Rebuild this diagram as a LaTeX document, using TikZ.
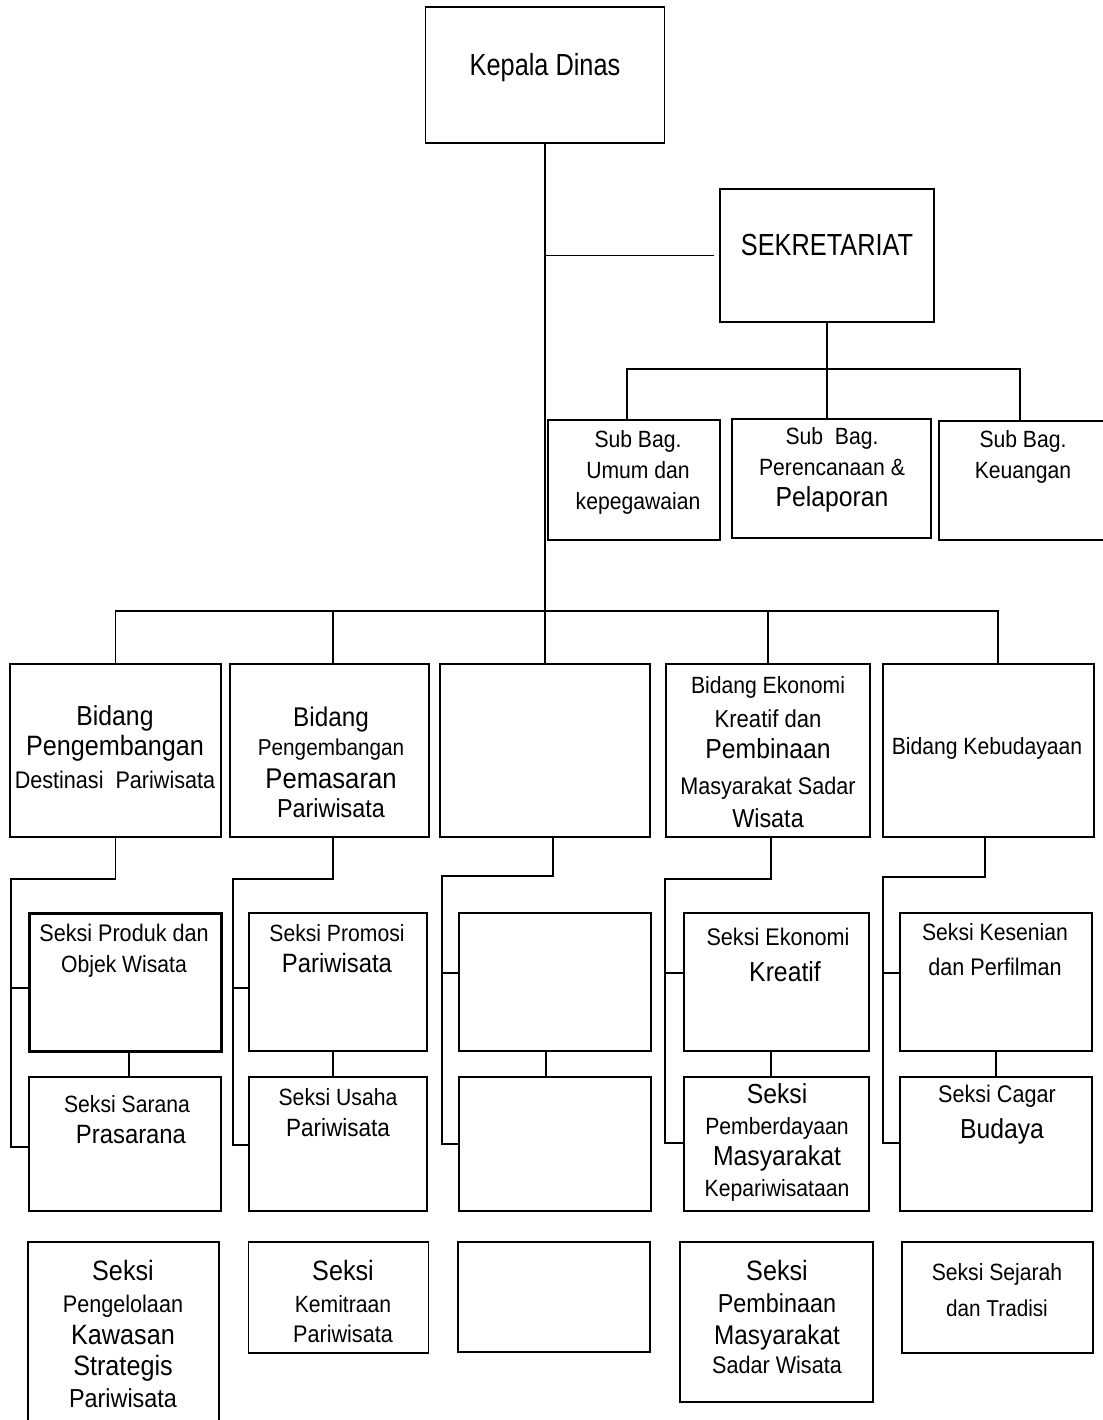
\documentclass[tikz,border=0pt]{standalone}
\usepackage{fontspec}
\setmainfont[FakeStretch=0.9]{Liberation Sans}
\newfontfamily\narrowf[FakeStretch=0.83]{Liberation Sans}
\newcommand\fz[1]{\fontsize{#1}{31}\selectfont}
\begin{document}
\begin{tikzpicture}[x=1pt,y=-1pt,line width=1.8pt,
  box/.style={draw,inner sep=0pt},
  thickbox/.style={draw,inner sep=0pt,line width=3pt},
  txt/.style={align=center,inner sep=0pt,font=\fz{23.5}}]
\fill[white] (0,0) rectangle (1102,1420);
\useasboundingbox (0,0) rectangle (1102,1420);

% top boxes
\node[box,minimum width=239pt,minimum height=136pt] (kd) at (545,75) {};
\node[txt,font=\narrowf\fz{30.5}] (tkd) at (545,68) {Kepala Dinas};
\node[box,minimum width=214pt,minimum height=133pt] (sek) at (827,255.5) {};
\node[txt,font=\narrowf\fz{30.5}] (tsek) at (827,245) {SEKRETARIAT};

% sub bagian
\node[box,minimum width=172pt,minimum height=120pt] (sb1) at (634,480) {};
\node[txt] (tsb1) at (638,472.5) {Sub Bag.\\Umum dan\\kepegawaian};
\node[box,minimum width=199pt,minimum height=119pt] (sb2) at (831.5,478.5) {};
\node[txt] (tsb2) at (832,470) {Sub\ \ Bag.\\Perencanaan \&\\{\fz{27.5}Pelaporan}};
\node[box,minimum width=176pt,minimum height=119pt] (sb3) at (1027,480.5) {};
\node[txt] (tsb3) at (1023,456.5) {Sub Bag.\\Keuangan};

% bidang
\node[box,minimum width=211pt,minimum height=173pt] (b1) at (115.5,750.5) {};
\node[txt] (tb1) at (115,747) {{\fz{27.5}Bidang}\\[-1pt]{\fz{28}Pengembangan}\\[2pt]{\fz{24}Destinasi\ \ Pariwisata}};
\node[box,minimum width=199pt,minimum height=173pt] (b2) at (329.5,750.5) {};
\node[txt] (tb2) at (331,762) {{\fz{27}Bidang}\\[-2pt]{\fz{23}Pengembangan}\\[2pt]{\fz{28.5}Pemasaran}\\[-2pt]{\fz{26}Pariwisata}};
\node[box,minimum width=210pt,minimum height=173pt] (b3) at (545,750.5) {};
\node[box,minimum width=204pt,minimum height=173pt] (b4) at (768,750.5) {};
\node[txt] (tb4) at (768,752.5) {Bidang Ekonomi\\[3pt]{\fz{24.5}Kreatif dan}\\[0pt]{\fz{27.5}Pembinaan}\\[5pt]{\fz{24}Masyarakat Sadar}\\[2pt]{\fz{26}Wisata}};
\node[box,minimum width=211pt,minimum height=173pt] (b5) at (988.5,750.5) {};
\node[txt] (tb5) at (987,748) {Bidang Kebudayaan};

% seksi row 1
\node[thickbox,minimum width=192pt,minimum height=138pt] (c1a) at (125,982) {};
\node[txt] (tc1a) at (124,951) {{\fz{24}Seksi Produk dan}\\Objek Wisata};
\node[box,minimum width=178pt,minimum height=138pt] (c2a) at (338,982) {};
\node[txt] (tc2a) at (337,948.5) {Seksi Promosi\\{\fz{26.5}Pariwisata}};
\node[box,minimum width=192pt,minimum height=138pt] (c3a) at (555,982) {};
\node[box,minimum width=185pt,minimum height=138pt] (c4a) at (776.5,982) {};
\node[txt] (tc4a) at (778,955) {{\fz{24}Seksi Ekonomi}\\[5pt]{\fz{27.5}\hspace*{14pt}Kreatif}};
\node[box,minimum width=192pt,minimum height=138pt] (c5a) at (996,982) {};
\node[txt] (tc5a) at (995,949.5) {Seksi Kesenian\\[4pt]{\fz{24}dan Perfilman}};

% seksi row 2
\node[box,minimum width=192pt,minimum height=134pt] (c1b) at (125,1144) {};
\node[txt] (tc1b) at (127,1120) {Seksi Sarana\\{\fz{26.5}\hspace*{8pt}Prasarana}};
\node[box,minimum width=178pt,minimum height=134pt] (c2b) at (338,1144) {};
\node[txt] (tc2b) at (338,1112.5) {Seksi Usaha\\{\fz{25}Pariwisata}};
\node[box,minimum width=192pt,minimum height=134pt] (c3b) at (555,1144) {};
\node[box,minimum width=185pt,minimum height=134pt] (c4b) at (776.5,1144) {};
\node[txt] (tc4b) at (777,1142.5) {{\fz{27.5}Seksi}\\Pemberdayaan\\{\fz{27.5}Masyarakat}\\Kepariwisataan};
\node[box,minimum width=192pt,minimum height=134pt] (c5b) at (996,1144) {};
\node[txt] (tc5b) at (997,1115) {{\fz{24}Seksi Cagar}\\[5pt]{\fz{27.5}\hspace*{10pt}Budaya}};

% bottom row
\node[box,minimum width=191pt,minimum height=210pt] (d1) at (123.5,1347) {};
\node[txt] (td1) at (123,1333.5) {{\fz{28}Seksi}\\[1pt]{\fz{24}Pengelolaan}\\[1pt]{\fz{28}Kawasan}\\[0pt]{\fz{28}Strategis}\\[1pt]{\fz{26}Pariwisata}};
\node[box,minimum width=180pt,minimum height=111pt] (d2) at (338.5,1297.5) {};
\node[txt] (td2) at (343,1301.5) {{\fz{28}Seksi}\\[1pt]Kemitraan\\[-1pt]{\fz{24}Pariwisata}};
\node[box,minimum width=192pt,minimum height=110pt] (d3) at (554,1297) {};
\node[box,minimum width=193pt,minimum height=160pt] (d4) at (776.5,1322) {};
\node[txt] (td4) at (777,1316.5) {{\fz{28}Seksi}\\[1pt]{\fz{26}Pembinaan}\\[1pt]{\fz{27}Masyarakat}\\[-2pt]{\fz{24}Sadar Wisata}};
\node[box,minimum width=191pt,minimum height=111pt] (d5) at (997.5,1297.5) {};
\node[txt] (td5) at (997,1290) {Seksi Sejarah\\[5pt]{\fz{23}dan Tradisi}};

% trunk and secretariat
\coordinate (sj) at (545,255.5);
\draw (kd.south) -- (b3.north);
\draw (sj) -- ([xshift=-5pt]sek.west);
\coordinate (sL) at (627,369);
\coordinate (sR) at (1020,369);
\draw (sek.south) -- (sek.south |- sb2.north);
\draw (sL |- sb1.north) -- (sL) -- (sR) -- (sR |- sb3.north);

% bidang bus
\coordinate (bL) at (115.5,611);
\coordinate (bR) at (998,611);
\coordinate (d2x) at (333,611);
\draw (bL |- b1.north) -- (bL) -- (bR) -- (bR |- b5.north);
\draw (d2x) -- (d2x |- b2.north);
\draw (b4.north) -- (b4.north |- bL);

% column brackets
\coordinate (k1) at (11,879);
\draw (b1.south) |- (k1) |- ([yshift=-6pt]c1a.west);
\draw (k1) |- ([yshift=-3pt]c1b.west);
\coordinate (k2) at (233,879);
\draw ([xshift=3.5pt]b2.south) |- (k2) |- ([yshift=-6pt]c2a.west);
\draw (k2) |- ([yshift=-1pt]c2b.west);
\coordinate (k3) at (442,876);
\draw ([xshift=8pt]b3.south) |- (k3) |- ([yshift=9pt]c3a.west);
\draw (k3) |- (c3b.west);
\coordinate (k4) at (665,879);
\draw ([xshift=3pt]b4.south) |- (k4) |- ([yshift=9pt]c4a.west);
\draw (k4) |- ([yshift=1pt]c4b.west);
\coordinate (k5) at (883,877);
\draw ([xshift=-3.5pt]b5.south) |- (k5) |- ([yshift=9pt]c5a.west);
\draw (k5) |- ([yshift=1pt]c5b.west);

% row connectors
\draw ([xshift=4pt]c1a.south) -- ([xshift=4pt]c1b.north);
\draw ([xshift=-5pt]c2a.south) -- ([xshift=-5pt]c2b.north);
\draw ([xshift=-9pt]c3a.south) -- ([xshift=-9pt]c3b.north);
\draw ([xshift=-5.5pt]c4a.south) -- ([xshift=-5.5pt]c4b.north);
\draw (c5a.south) -- (c5b.north);
\end{tikzpicture}
\end{document}
